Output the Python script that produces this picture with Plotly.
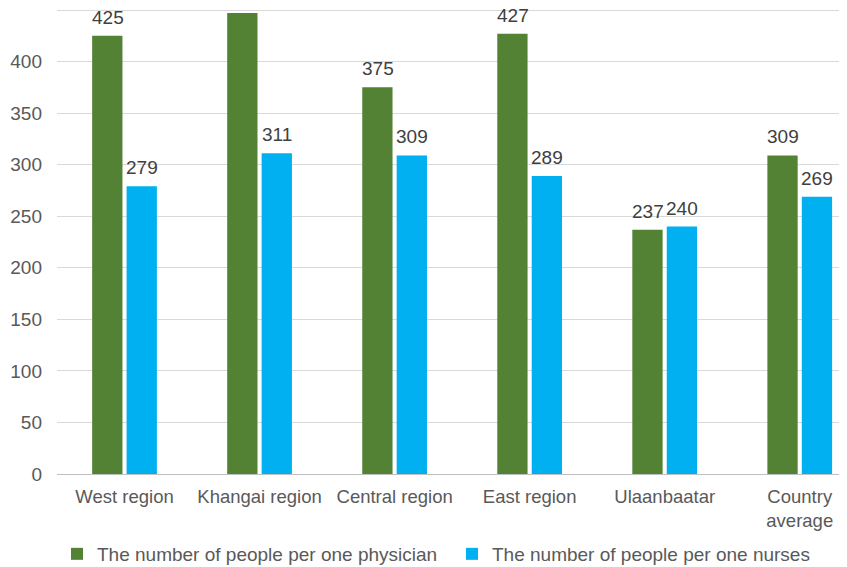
import plotly.graph_objects as go

categories = ["West region", "Khangai region", "Central region", "East region", "Ulaanbaatar", "Country<br>average"]
physician = [425, 447, 375, 427, 237, 309]
nurses = [279, 311, 309, 289, 240, 269]
y_ticks = [0, 50, 100, 150, 200, 250, 300, 350, 400, 450]
y_max = 450

FONT = "Liberation Sans, Arial, sans-serif"

fig = go.Figure()
fig.add_trace(go.Bar(
    x=categories, y=physician, name="The number of people per one physician",
    marker=dict(color="#548235", line=dict(width=0)),
))
fig.add_trace(go.Bar(
    x=categories, y=nurses, name="The number of people per one nurses",
    marker=dict(color="#00B0F0", line=dict(width=0)),
))

# data labels above bars (labels that would fall outside the plot area are clipped in the reference)
for series, shift in ((physician, -17), (nurses, 17)):
    for cat, v in zip(categories, series):
        if v > y_max - 5:
            continue
        fig.add_annotation(x=cat, y=v, xref="x", yref="y", text=str(v), showarrow=False,
                           yanchor="bottom", xanchor="center", xshift=shift, yshift=6,
                           font=dict(family=FONT, size=19, color="#404040"))

# the page body adds an 8px offset, so the figure is 8px smaller than the window
fig.update_layout(
    width=839, height=559,
    margin=dict(l=49, r=0, t=1, b=93, autoexpand=False),
    paper_bgcolor="white", plot_bgcolor="white",
    barmode="group", bargap=0.49, bargroupgap=0.12,
    font=dict(family=FONT, size=18.5, color="#595959"),
    showlegend=True,
    legend=dict(orientation="h", x=0.0, xanchor="left", y=-0.172, yanchor="middle",
                font=dict(family=FONT, size=19, color="#595959"),
                itemwidth=30, tracegroupgap=0, entrywidth=350, entrywidthmode="pixels"),
    xaxis=dict(type="category", range=[-0.5, 5.35], showgrid=False, ticks="",
               showline=False, automargin=False, ticklabelstandoff=9,
               tickfont=dict(family=FONT, size=18.5, color="#595959")),
    yaxis=dict(range=[0, y_max + 1], tickvals=y_ticks, showgrid=True, gridcolor="#D9D9D9",
               gridwidth=1, zeroline=True, zerolinecolor="#BFBFBF", zerolinewidth=1,
               showline=False, ticks="", automargin=False, ticklabelstandoff=14,
               tickfont=dict(family=FONT, size=19, color="#595959")),
)

fig.write_html("out.html")
